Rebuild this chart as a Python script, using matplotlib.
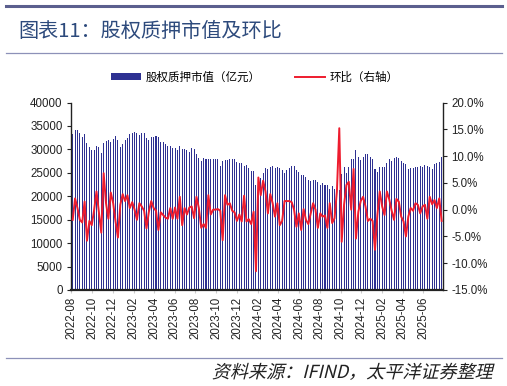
import numpy as np
import pandas as pd
import matplotlib
matplotlib.use("Agg")
import matplotlib.pyplot as plt
from matplotlib.patches import Patch, PathPatch
from matplotlib.lines import Line2D
from matplotlib.textpath import TextPath
from matplotlib.font_manager import FontProperties
from matplotlib.transforms import Affine2D, IdentityTransform

plt.rcParams['font.family'] = ['Liberation Sans', 'Noto Sans CJK SC', 'DejaVu Sans']

# weekly pledge market value (亿元)
pledge_value = [
    33300, 34100, 34100, 33600, 32600, 33200, 31300, 30600, 29800, 29800,
    30700, 30500, 29300, 31300, 31800, 31900, 31600, 32300, 32900, 32100,
    30600, 31100, 31900, 32400, 33300, 33400, 33700, 33400, 33100, 33600,
    33600, 32400, 32100, 32600, 32600, 32800, 32600, 31600, 31500, 31100,
    30700, 30700, 30400, 30300, 29900, 30700, 30000, 30000, 29800, 29500,
    30200, 30000, 29100, 28200, 27500, 28200, 28000, 28000, 28000, 28000,
    28000, 28000, 26400, 27500, 27700, 27800, 28000, 28000, 28000, 27400,
    27100, 27000, 26400, 26700, 26000, 25400, 25400, 22500, 23900, 24000,
    25000, 26000, 25800, 26300, 26500, 26100, 26300,
    26100, 25600, 24900, 25600, 26100, 26400, 26400, 25700, 25200, 24600,
    24600, 24100, 23400, 23300, 23400, 23400, 23100, 22400, 22800, 22400,
    22400, 21500, 22200, 21600, 21200, 21400, 24700, 26300, 25000, 26300,
    27900, 27900, 29800, 28400, 27700, 28400, 29000, 29000, 28400, 27900,
    25800, 25200, 26300, 26300, 26300, 27200, 28000, 27600, 28100, 28400,
    28100, 27600, 27200, 26900, 25800, 26100, 26100, 26300, 26300, 26500,
    26300, 26600, 26500, 26300, 25800, 26900, 27000, 27400, 28300,
]

# week-on-week change (%)
wow_change = [
    -1.9, 2.1, 0.3, -1.9, -2.4, 1.5, -5.8, -2.1, -2.9, -0.05,
    3.4, -0.4, -4.3, 6.8, 1.2, -1.7, 3.2, 1.2, -2.2, -5.2,
    0.9, 2.9, 1.6, 2.7, 0.3, 1.4, 0.0, -1.9, 1.2, 0.6,
    -0.2, -3.5, -0.4, 1.6, 0.3, -0.2, -3.8, -0.5, -1.0,
    -1.5, -1.7, 0.3, -1.7, 0.4, -1.7, 2.4, -2.9, 0.3, -0.9,
    0.4, 0.6, -1.6, 2.4, 0.3, -3.4, -2.7, -3.4, 2.7, -0.9,
    0.0, 0.0, 0.1, -0.2, -5.7, 2.7, 0.9, 1.2, -0.2, -0.5,
    -2.1, -0.9, -2.2, 2.6, -2.2, -1.8, -2.7, -0.4, -11.5, 6.0,
    2.7, 5.4, 3.4, -0.7, 2.9, 1.2, -1.3, 1.2, -2.9, -2.1,
    1.6, 1.6, 1.6, 1.4, 0.0, -3.2, -0.7, -3.8, 0.1, -1.9,
    -2.7, -0.7, 1.2, 0.0, -3.4, -0.7, -1.3, -1.1, -3.4, 1.2,
    -2.5, -1.6, 3.4, 15.2, -6.0, 0.9,
    4.6, 5.2, 0.0, 7.6, -5.4, -0.4, 1.6, 2.4, 0.6, -2.1,
    -1.7, -2.1, -7.5, -1.0, 3.4, 0.6, -1.0, 3.4, 1.9, -0.2,
    -1.9, 2.0, 1.5, -1.3, -2.2, -5.0, -1.3, 0.3, -0.2, 1.2,
    0.9, -0.7, 0.6, 0.9, -1.7, 2.4, 1.0, 1.8, 0.3, 2.1, -2.1,
]

n = min(len(pledge_value), len(wow_change))
pledge_value = pledge_value[:n]
wow_change = wow_change[:n]
dates = pd.date_range('2022-08-05', periods=n, freq='7D')

tick_dates = pd.date_range('2022-08-01', '2025-06-01', freq='2MS')
tick_labels = [d.strftime('%Y-%m') for d in tick_dates]

navy = '#2e3192'
red = '#ee1c2e'
title_blue = '#2d4a7c'
rule = '#8d91b8'
cjk = ['Noto Sans CJK SC', 'DejaVu Sans']

fig = plt.figure(figsize=(5.07, 3.86), dpi=100)
fig.patch.set_facecolor('white')

ax = fig.add_axes([71 / 507, 1 - 290 / 386, (443 - 71) / 507, (290 - 102.5) / 386])
ax2 = ax.twinx()

ax.bar(dates, pledge_value, width=3.0, color=navy, linewidth=0, zorder=2)
ax2.plot(dates, wow_change, color=red, linewidth=1.4, zorder=3)

ax.set_xlim(pd.Timestamp('2022-07-31'), pd.Timestamp('2025-07-29'))
ax.set_ylim(0, 40000)
ax.set_yticks(np.arange(0, 40001, 5000))
ax2.set_ylim(-15, 20)
ax2.set_yticks(np.arange(-15, 20.1, 5))
ax2.set_yticklabels([f'{v:.1f}%' for v in np.arange(-15, 20.1, 5)])

ax.set_xticks(tick_dates)
ax.set_xticklabels(tick_labels, rotation=90, fontsize=8.3, color='#222222')
ax.tick_params(axis='x', length=2, color='#cccccc', pad=3)
ax.tick_params(axis='y', labelsize=8.3, length=3, color='#222222', labelcolor='#222222', pad=3)
ax2.tick_params(axis='y', labelsize=8.3, length=3, color='#222222', labelcolor='#222222', pad=3)

for a in (ax, ax2):
    a.spines['top'].set_visible(False)
    for s in ('left', 'right', 'bottom'):
        a.spines[s].set_color('#222222')
        a.spines[s].set_linewidth(1.0)
ax.spines['right'].set_visible(False)
ax2.spines['left'].set_visible(False)
ax2.spines['bottom'].set_visible(False)
ax.spines['bottom'].set_linewidth(1.6)

# header / footer rules
fig.add_artist(Line2D([6 / 507, 502 / 507], [1 - 6 / 386] * 2, color='#5b5f8e', linewidth=2.2))
fig.add_artist(Line2D([6 / 507, 502 / 507], [1 - 53 / 386] * 2, color=rule, linewidth=0.9))
fig.add_artist(Line2D([6 / 507, 502 / 507], [1 - 358 / 386] * 2, color=rule, linewidth=0.9))

fig.text(18 / 507, 1 - 31 / 386, '图表11：股权质押市值及环比', fontsize=14.5, color=title_blue,
         family=cjk, va='center', ha='left')

# source note, slanted like the original
src = TextPath((0, 0), '资料来源：IFIND，太平洋证券整理', size=13,
               prop=FontProperties(family=cjk))
ext = src.get_extents()
px = fig.dpi / 72.0
src_tr = (Affine2D().translate(-ext.x1, 0).skew_deg(14, 0).scale(px)
          .translate(492, 386 - 378) + IdentityTransform())
fig.add_artist(PathPatch(src, transform=src_tr, facecolor='#222222', edgecolor='none'))

handles = [Patch(facecolor=navy, edgecolor='none'),
           Line2D([0], [0], color=red, linewidth=1.4)]
fig.legend(handles, ['股权质押市值（亿元）', '环比（右轴）'], loc='center',
           bbox_to_anchor=(255 / 507, 1 - 77 / 386), ncol=2, frameon=False,
           prop={'family': cjk, 'size': 8.3},
           handlelength=2.6, handleheight=0.55, columnspacing=3.0, handletextpad=0.4)

fig.savefig('out.png', dpi=100)
